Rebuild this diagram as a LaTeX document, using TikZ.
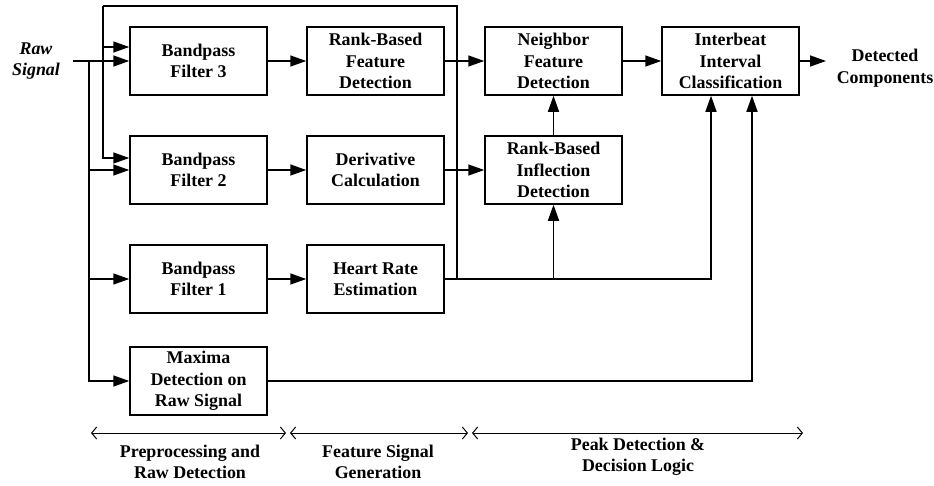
\documentclass[tikz,border=0pt]{standalone}
\usepackage{fontspec}
\setmainfont{Liberation Serif}
\usetikzlibrary{arrows.meta}
\begin{document}
\begin{tikzpicture}[x=1pt,y=-1pt,
  font=\fontsize{17.9}{21.5}\selectfont\bfseries,
  blk/.style={draw,line width=1.5pt,minimum width=137pt,minimum height=68pt,inner sep=0pt,align=center},
  lbl/.style={align=center,inner sep=0pt},
  arr/.style={line width=1.5pt,-{Triangle[length=16pt,width=11pt]}},
  ln/.style={line width=1.5pt},
  span/.style={line width=1pt,{Straight Barb[length=5pt,width=12pt]}-{Straight Barb[length=5pt,width=12pt]}}]
\useasboundingbox (0,0) rectangle (934,485);
% blocks
\node[blk] (bf3) at (198.5,61) {Bandpass\\Filter 3};
\node[blk] (bf2) at (198.5,170) {Bandpass\\Filter 2};
\node[blk] (bf1) at (198.5,279) {Bandpass\\Filter 1};
\node[blk] (mx) at (198.5,381) {Maxima\\Detection on\\Raw Signal};
\node[blk] (rbf) at (375.5,61) {Rank-Based\\Feature\\Detection};
\node[blk] (der) at (375.5,170) {Derivative\\Calculation};
\node[blk] (hr) at (375.5,279) {Heart Rate\\Estimation};
\node[blk] (nb) at (553.5,61) {Neighbor\\Feature\\Detection};
\node[blk] (rbi) at (553.5,170) {Rank-Based\\Inflection\\Detection};
\node[blk] (ib) at (730.5,61) {Interbeat\\Interval\\Classification};
% texts
\node[lbl,font=\fontsize{17.9}{21.5}\selectfont\bfseries\itshape] (raw) at (36,61) {Raw\\Signal};
\node[lbl] (det) at (885,68) {Detected\\Components};
% coordinates
\coordinate (rin) at (73,61);
\coordinate (j1) at (89,61);
\coordinate (top) at (103,6);
\coordinate (fb) at (457,279);
\coordinate (dout) at (826,61);
\coordinate (b3u) at ([yshift=14pt]bf3.west);
\coordinate (b2u) at ([yshift=12pt]bf2.west);
\coordinate (ibl) at ([xshift=-19.5pt]ib.south);
\coordinate (ibr) at ([xshift=21.5pt]ib.south);
% input distribution
\draw[arr] (rin) -- (bf3.west);
\draw[arr] (j1) |- (bf2.west);
\draw[arr] (j1) |- (bf1.west);
\draw[arr] (j1) |- (mx.west);
% feedback from heart rate
\draw[ln] (fb) |- (top);
\draw[arr] (top) |- (b2u);
\draw[arr] (b3u -| top) -- (b3u);
% chains
\draw[arr] (bf3) -- (rbf);
\draw[arr] (bf2) -- (der);
\draw[arr] (bf1) -- (hr);
\draw[arr] (rbf) -- (nb);
\draw[arr] (der) -- (rbi);
\draw[arr] (rbi) -- (nb);
\draw[arr] (nb) -- (ib);
\draw[arr] (ib.east) -- (dout);
\draw[arr] (hr.east) -| (ibl);
\draw[arr] (rbi.south |- hr.east) -- (rbi.south);
\draw[arr] (mx.east) -| (ibr);
% stage spans
\coordinate (s0) at (91,433);
\coordinate (s1) at (286,433);
\coordinate (s2) at (290,433);
\coordinate (s3) at (468,433);
\coordinate (s4) at (472,433);
\coordinate (s5) at (803,433);
\draw[span] (s0) -- (s1);
\draw[span] (s2) -- (s3);
\draw[span] (s4) -- (s5);
\node[lbl] (l1) at (190,462) {Preprocessing and\\Raw Detection};
\node[lbl] (l2) at (378,462) {Feature Signal\\Generation};
\node[lbl] (l3) at (638,457) {Peak Detection \&\\Decision Logic};
\end{tikzpicture}
\end{document}
